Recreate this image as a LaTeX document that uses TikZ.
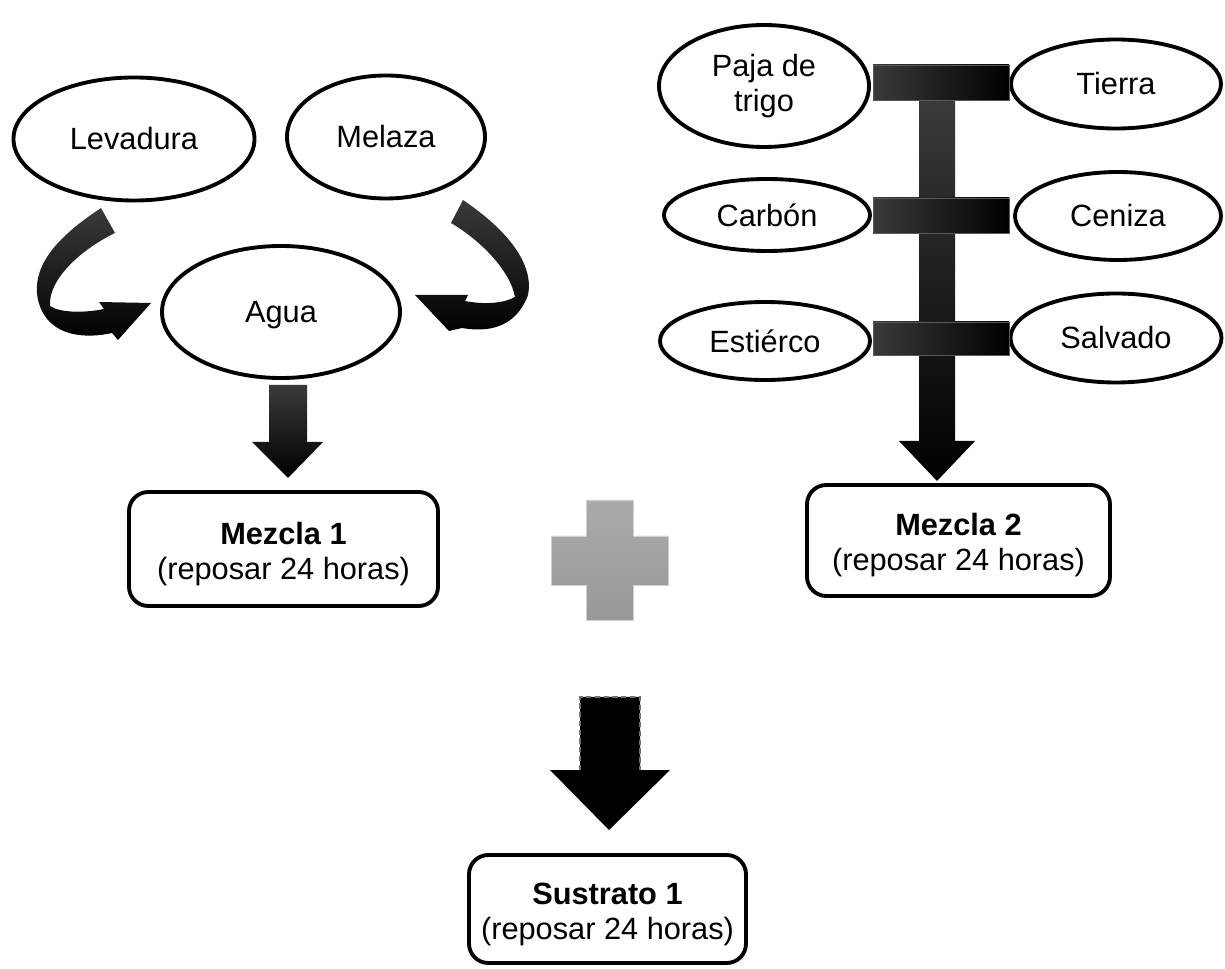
\documentclass[tikz,border=0pt]{standalone}
\usepackage{fontspec}
\setmainfont{Liberation Sans}
\usetikzlibrary{shapes.geometric}
\definecolor{darkg}{HTML}{3A3A3A}
\definecolor{plusA}{HTML}{ABABAB}
\definecolor{plusB}{HTML}{989898}
\begin{document}
\begin{tikzpicture}[x=0.02cm,y=-0.02cm,
  every node/.style={font=\fontsize{17.5}{20}\selectfont},
  oval/.style 2 args={ellipse, draw, line width=2.2pt, inner sep=0pt, fill=white, align=center,
    minimum width={#1*0.02cm}, minimum height={#2*0.02cm}},
  box/.style 2 args={draw, line width=2.2pt, rounded corners=11pt, align=center, inner sep=0pt, fill=white,
    minimum width={#1*0.02cm}, minimum height={#2*0.02cm}},
  bar/.style={left color=darkg, middle color=black, right color=black, draw=black!65, line width=0.5pt},
  ribbon/.style={top color=darkg, bottom color=black}
]
\useasboundingbox (0,0) rectangle (1225,969);

% ---- left group
\node[oval={241}{123}] (lev) at (134,139) {Levadura};
\node[oval={198}{123}] (mel) at (386,137) {Melaza};
\node[oval={238}{132}] (agua) at (281,312) {\rule{0pt}{16pt}Agua};

% curved arrow Levadura -> Agua
\shade[ribbon] (101,208) .. controls (65,232) and (30,262) .. (38,300)
  .. controls (48,340) and (90,338) .. (112,333)
  -- (118,340) -- (151,303) -- (99,302) -- (104,309)
  .. controls (85,313) and (60,313) .. (50,306)
  .. controls (48,280) and (80,250) .. (115,233) -- cycle;
% curved arrow Melaza -> Agua
\shade[ribbon] (463,200) .. controls (500,225) and (535,260) .. (528,295)
  .. controls (515,330) and (485,332) .. (462,328)
  -- (449,331) -- (415,295) -- (468,295) -- (465,301)
  .. controls (485,305) and (505,303) .. (515,297)
  .. controls (510,270) and (480,240) .. (451,223) -- cycle;

% Agua -> Mezcla 1
\shade[top color=darkg, middle color=black, bottom color=black]
  (269,385) -- (307,385) -- (307,442) -- (323,442) -- (288,478) -- (252,442) -- (269,442) -- cycle;

\node[box={309}{114}] (m1) at (283.5,549) {\rule{0pt}{18pt}\textbf{Mezcla 1}\\(reposar 24 horas)};

% ---- right group
\node[oval={210}{122}] (paja) at (764,86) {Paja de\\trigo};
\node[oval={210}{89}] (tierra) at (1116,84) {Tierra};
\node[oval={206}{72}] (carbon) at (767,215) {Carbón};
\node[oval={206}{88}] (ceniza) at (1118,216) {Ceniza};
\node[oval={210}{78}] (estiercol) at (765,341) {Estiérco};
\node[oval={211}{89}] (salvado) at (1116,338) {Salvado};

% vertical shaft with head
\shade[top color=darkg, middle color=black, bottom color=black]
  (919,100) -- (955,100) -- (955,441) -- (975,441) -- (937,481) -- (899,441) -- (919,441) -- cycle;
% connecting bars
\shade[bar] (873,65) rectangle (1009,100);
\shade[bar] (873,198) rectangle (1009,233);
\shade[bar] (873,322) rectangle (1009,355);

\node[box={303}{111}] (m2) at (958.5,540.5) {\rule{0pt}{18pt}\textbf{Mezcla 2}\\(reposar 24 horas)};

% ---- plus sign
\shade[top color=plusA, bottom color=plusB, draw=black!18, line width=0.4pt]
  (586,500) -- (633,500) -- (633,536) -- (668,536) -- (668,585) -- (633,585)
  -- (633,620) -- (586,620) -- (586,585) -- (551,585) -- (551,536) -- (586,536) -- cycle;

% ---- bottom arrow
\fill[black] (580,697) -- (640,697) -- (640,770) -- (670,770) -- (609,830) -- (550,770) -- (580,770) -- cycle;
\draw[black!55, dashed, dash pattern=on 3pt off 2pt, line width=0.8pt]
  (580,770) -- (580,697) -- (640,697) -- (640,770);

\node[box={277}{108}] (sus) at (607.5,909) {\rule{0pt}{18pt}\textbf{Sustrato 1}\\(reposar 24 horas)};
\end{tikzpicture}
\end{document}
